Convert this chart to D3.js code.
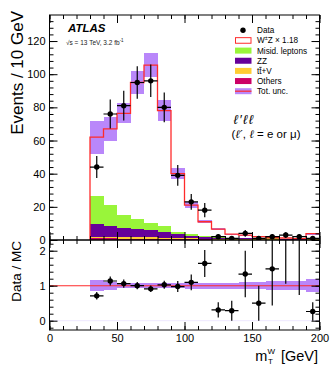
<!DOCTYPE html>
<html>
<head>
<meta charset="utf-8">
<script src="https://cdn.jsdelivr.net/npm/d3@7"></script>
<style>
  body { margin: 0; background: #fff; }
  svg { display: block; }
  text { font-family: "Liberation Sans", Arial, Helvetica, sans-serif; }
</style>
</head>
<body>
<div class="containers"></div>
<script>
// bin lower edges (GeV), 10 GeV wide
const binLow = [30, 40, 50, 60, 70, 80, 90, 100, 110, 120, 130, 140, 150, 160, 170, 180, 190]
const dataCounts = [44, 76, 81, 95, 96, 80, 39, 23, 18, 2, 1, 4, 1, 2, 3, 2, 1]
// stacked MC, bottom to top
const others = [1.0, 1.0, 0.9, 0.9, 0.8, 0.7, 0.6, 0.5, 0.4, 0.3, 0.2, 0.2, 0.2, 0.15, 0.1, 0.1, 0.3]
const ttV = [1.0, 1.0, 1.0, 0.9, 0.9, 0.8, 0.7, 0.6, 0.5, 0.4, 0.3, 0.3, 0.2, 0.2, 0.1, 0.1, 0.3]
const zz = [7.5, 6.4, 5.6, 5.0, 4.5, 3.6, 2.3, 1.5, 1.0, 0.7, 0.5, 0.5, 0.4, 0.3, 0.3, 0.2, 0.4]
const misid = [17.2, 12.7, 7.5, 6.1, 4.1, 3.2, 1.4, 1.0, 0.8, 0.6, 0.5, 0.4, 0.3, 0.3, 0.3, 0.2, 0.3]
const wz = [35.3, 45.9, 61.4, 82.1, 95.2, 69.7, 35.0, 17.4, 8.3, 4.5, 2.0, 1.6, 0.9, 0.4, 0.4, 0.2, 2.5]
// relative total uncertainty per bin
const relUnc = [0.16, 0.11, 0.08, 0.07, 0.07, 0.08, 0.08, 0.085, 0.085, 0.085, 0.085, 0.1, 0.1, 0.13, 0.13, 0.13, 0.18]

const xTicks = [0, 50, 100, 150, 200]
const yTicks = [0, 20, 40, 60, 80, 100, 120]
const rTicks = [0, 1, 2]

const width = 332
const height = 370
const binW = 10

const components = [
  { name: 'others', values: others, color: '#cc0066' },
  { name: 'ttV', values: ttV, color: '#ffcc33' },
  { name: 'zz', values: zz, color: '#660099' },
  { name: 'misid', values: misid, color: '#99f53a' },
]

const total = binLow.map((b, i) => others[i] + ttV[i] + zz[i] + misid[i] + wz[i])

const x = d3.scaleLinear().domain([0, 200]).range([49.5, 319.5])
const y = d3.scaleLinear().domain([0, 135.7]).range([240, 15])
const yr = d3.scaleLinear().domain([-0.266, 2.306]).range([330, 240])

const svg = d3
  .select('.containers')
  .append('svg')
  .attr('width', width)
  .attr('height', height)

svg.append('defs').append('clipPath').attr('id', 'clipTop')
  .append('rect').attr('x', 49.5).attr('y', 15).attr('width', 270).attr('height', 225)
svg.select('defs').append('clipPath').attr('id', 'clipBot')
  .append('rect').attr('x', 49.5).attr('y', 240).attr('width', 270).attr('height', 90)

const bandColor = '#b987fa'
const redLine = '#ff2b2b'

// ---------- upper panel ----------
const upper = svg.append('g').attr('clip-path', 'url(#clipTop)')

// stacked backgrounds
let base = binLow.map(() => 0)
components.forEach(c => {
  upper.append('g')
    .selectAll('rect')
    .data(binLow)
    .join('rect')
    .attr('x', d => x(d))
    .attr('width', d => x(d + binW) - x(d))
    .attr('y', (d, i) => y(base[i] + c.values[i]))
    .attr('height', (d, i) => y(base[i]) - y(base[i] + c.values[i]))
    .attr('fill', c.color)
    .attr('shape-rendering', 'crispEdges')
  base = base.map((v, i) => v + c.values[i])
})

// uncertainty band
upper.append('g')
  .selectAll('rect')
  .data(binLow)
  .join('rect')
  .attr('x', d => x(d))
  .attr('width', d => x(d + binW) - x(d))
  .attr('y', (d, i) => y(total[i] * (1 + relUnc[i])))
  .attr('height', (d, i) => y(total[i] * (1 - relUnc[i])) - y(total[i] * (1 + relUnc[i])))
  .attr('fill', bandColor)
  .attr('shape-rendering', 'crispEdges')

// total step line
const stepPts = [[binLow[0], 0]]
binLow.forEach((b, i) => {
  stepPts.push([b, total[i]])
  stepPts.push([b + binW, total[i]])
})
upper.append('path')
  .attr('d', d3.line().x(d => x(d[0])).y(d => y(d[1]))(stepPts))
  .attr('fill', 'none')
  .attr('stroke', redLine)
  .attr('stroke-width', 1.3)

// data points
const pts = upper.append('g').selectAll('g').data(binLow).join('g')
pts.append('line')
  .attr('x1', d => x(d)).attr('x2', d => x(d + binW))
  .attr('y1', (d, i) => y(dataCounts[i])).attr('y2', (d, i) => y(dataCounts[i]))
  .attr('stroke', '#000').attr('stroke-width', 1.2)
pts.append('line')
  .attr('x1', d => x(d + binW / 2)).attr('x2', d => x(d + binW / 2))
  .attr('y1', (d, i) => y(dataCounts[i] + Math.sqrt(dataCounts[i])))
  .attr('y2', (d, i) => y(dataCounts[i] - Math.sqrt(dataCounts[i])))
  .attr('stroke', '#000').attr('stroke-width', 1.2)
pts.append('circle')
  .attr('cx', d => x(d + binW / 2))
  .attr('cy', (d, i) => y(dataCounts[i]))
  .attr('r', 2.7)
  .attr('fill', '#000')

// ---------- lower panel ----------
const lower = svg.append('g').attr('clip-path', 'url(#clipBot)')

lower.append('line')
  .attr('x1', x(0)).attr('x2', x(200)).attr('y1', yr(0)).attr('y2', yr(0))
  .attr('stroke', '#eee8ff').attr('stroke-width', 1)

lower.append('g')
  .selectAll('rect')
  .data(binLow)
  .join('rect')
  .attr('x', d => x(d))
  .attr('width', d => x(d + binW) - x(d))
  .attr('y', (d, i) => yr(1 + relUnc[i]))
  .attr('height', (d, i) => yr(1 - relUnc[i]) - yr(1 + relUnc[i]))
  .attr('fill', bandColor)
  .attr('shape-rendering', 'crispEdges')

lower.append('line')
  .attr('x1', x(0)).attr('x2', x(200)).attr('y1', yr(1)).attr('y2', yr(1))
  .attr('stroke', redLine).attr('stroke-width', 1.1)

const rpts = lower.append('g').selectAll('g').data(binLow).join('g')
const ratio = (i) => dataCounts[i] / total[i]
const rerr = (i) => Math.sqrt(dataCounts[i]) / total[i]
rpts.append('line')
  .attr('x1', d => x(d)).attr('x2', d => x(d + binW))
  .attr('y1', (d, i) => yr(ratio(i))).attr('y2', (d, i) => yr(ratio(i)))
  .attr('stroke', '#000').attr('stroke-width', 1.2)
rpts.append('line')
  .attr('x1', d => x(d + binW / 2)).attr('x2', d => x(d + binW / 2))
  .attr('y1', (d, i) => yr(ratio(i) + rerr(i)))
  .attr('y2', (d, i) => yr(Math.max(ratio(i) - rerr(i), -0.5)))
  .attr('stroke', '#000').attr('stroke-width', 1.2)
rpts.append('circle')
  .attr('cx', d => x(d + binW / 2))
  .attr('cy', (d, i) => yr(ratio(i)))
  .attr('r', 2.7)
  .attr('fill', '#000')

// ---------- axes ----------
const axisStyle = (g) => {
  g.select('.domain').remove()
  g.selectAll('line').attr('stroke', '#000').attr('stroke-width', 1)
  g.selectAll('text').attr('font-size', 11).attr('fill', '#000')
    .attr('font-family', '"Liberation Sans", Arial, sans-serif')
}
const minorX = d3.range(0, 201, 10)
const minorY = d3.range(0, 136, 4)
const minorR = d3.range(-0.2, 2.31, 0.2)

const addTicks = (axisFn, scale, transform, majors, minors, majLen, minLen, labels) => {
  svg.append('g').attr('transform', transform)
    .call(axisFn(scale).tickValues(minors).tickSize(-minLen).tickFormat(''))
    .call(axisStyle)
  svg.append('g').attr('transform', transform)
    .call(axisFn(scale).tickValues(majors).tickSize(-majLen).tickPadding(labels ? 4 : 0)
      .tickFormat(labels ? d3.format('d') : ''))
    .call(axisStyle)
}

// upper panel
addTicks(d3.axisLeft, y, `translate(${x(0)},0)`, yTicks, minorY, 8, 4, true)
addTicks(d3.axisRight, y, `translate(${x(200)},0)`, yTicks, minorY, 8, 4, false)
addTicks(d3.axisBottom, x, `translate(0,240)`, xTicks, minorX, 8, 4, false)
addTicks(d3.axisTop, x, `translate(0,15)`, xTicks, minorX, 8, 4, false)
// lower panel
addTicks(d3.axisLeft, yr, `translate(${x(0)},0)`, rTicks, minorR, 8, 4, true)
addTicks(d3.axisRight, yr, `translate(${x(200)},0)`, rTicks, minorR, 8, 4, false)
addTicks(d3.axisBottom, x, `translate(0,330)`, xTicks, minorX, 8, 4, true)
addTicks(d3.axisTop, x, `translate(0,240)`, xTicks, minorX, 8, 4, false)

// frames
svg.append('rect').attr('x', x(0)).attr('y', 15).attr('width', x(200) - x(0)).attr('height', 225)
  .attr('fill', 'none').attr('stroke', '#000').attr('stroke-width', 1)
svg.append('rect').attr('x', x(0)).attr('y', 240).attr('width', x(200) - x(0)).attr('height', 90)
  .attr('fill', 'none').attr('stroke', '#000').attr('stroke-width', 1)

// axis titles
svg.append('text')
  .attr('transform', 'translate(22.5,11) rotate(-90)')
  .attr('text-anchor', 'end')
  .attr('font-size', 17)
  .text('Events / 10 GeV')
svg.append('text')
  .attr('transform', 'translate(21,241) rotate(-90)')
  .attr('text-anchor', 'end')
  .attr('font-size', 13.5)
  .text('Data / MC')

const xt = svg.append('text')
  .attr('x', 318).attr('y', 361)
  .attr('text-anchor', 'end')
  .attr('font-size', 14.5)
xt.append('tspan').text('m')
xt.append('tspan').attr('font-size', 8).attr('dy', -7).text('W')
xt.append('tspan').attr('font-size', 8).attr('dx', -7).attr('dy', 10).text('T')
xt.append('tspan').attr('dy', -3).text('\u00a0\u00a0[GeV]')

// ATLAS label
svg.append('text')
  .attr('x', 68).attr('y', 32)
  .attr('font-size', 11.5)
  .attr('font-weight', 'bold')
  .attr('font-style', 'italic')
  .text('ATLAS')
const lumi = svg.append('text').attr('x', 66).attr('y', 45).attr('font-size', 6.5).attr('fill', '#222')
lumi.append('tspan').text('\u221as = 13 TeV, 3.2 fb')
lumi.append('tspan').attr('font-size', 4.5).attr('dy', -3).text('-1')

// channel label
svg.append('text').attr('x', 244).attr('y', 124).attr('text-anchor', 'middle')
  .attr('font-size', 13).attr('font-style', 'italic').attr('letter-spacing', 1.5)
  .attr('font-family', '"DejaVu Serif", "Liberation Serif", serif')
  .text('\u2113\u2032\u2113\u2113')
const ch2 = svg.append('text').attr('x', 266).attr('y', 138).attr('text-anchor', 'middle')
  .attr('font-size', 11.5)
ch2.append('tspan').text('(')
ch2.append('tspan').attr('font-style', 'italic').attr('font-family', '"DejaVu Serif", serif').text('\u2113\u2032')
ch2.append('tspan').text(', ')
ch2.append('tspan').attr('font-style', 'italic').attr('font-family', '"DejaVu Serif", serif').text('\u2113')
ch2.append('tspan').text(' = e or \u03bc)')

// legend
const legendRows = [
  { label: 'Data', type: 'data' },
  { label: 'WZ', type: 'wz' },
  { label: 'Misid. leptons', type: 'fill', color: '#99f53a' },
  { label: 'ZZ', type: 'fill', color: '#660099' },
  { label: 'tt+V', type: 'fill', color: '#ffcc33' },
  { label: 'Others', type: 'fill', color: '#cc0066' },
  { label: 'Tot. unc.', type: 'unc' },
]
const lg = svg.append('g')
legendRows.forEach((r, i) => {
  const cy = 30.3 + i * 10.15
  const row = lg.append('g')
  if (r.type === 'data') {
    row.append('circle').attr('cx', 243).attr('cy', cy).attr('r', 2.7).attr('fill', '#000')
  } else if (r.type === 'wz') {
    row.append('rect').attr('x', 235.5).attr('y', cy - 2.8).attr('width', 15.5).attr('height', 5.6)
      .attr('fill', '#fff').attr('stroke', redLine).attr('stroke-width', 1)
  } else if (r.type === 'fill') {
    row.append('rect').attr('x', 235).attr('y', cy - 3).attr('width', 16.5).attr('height', 6)
      .attr('fill', r.color)
  } else {
    row.append('rect').attr('x', 235).attr('y', cy - 3).attr('width', 16.5).attr('height', 6)
      .attr('fill', bandColor)
    row.append('line').attr('x1', 235).attr('x2', 251.5).attr('y1', cy).attr('y2', cy)
      .attr('stroke', redLine).attr('stroke-width', 1.2)
  }
  const t = row.append('text').attr('x', 257).attr('y', cy + 3).attr('font-size', 8.2)
  if (r.type === 'wz') {
    t.append('tspan').text('W')
    t.append('tspan').attr('font-size', 5.5).attr('dy', -3).text('\u00b1')
    t.append('tspan').attr('dy', 3).text('Z \u00d7 1.18')
  } else if (r.label === 'tt+V') {
    t.append('tspan').text('t')
    t.append('tspan').attr('text-decoration', 'overline').text('t')
    t.append('tspan').text('+V')
  } else {
    t.text(r.label)
  }
})
</script>
</body>
</html>
